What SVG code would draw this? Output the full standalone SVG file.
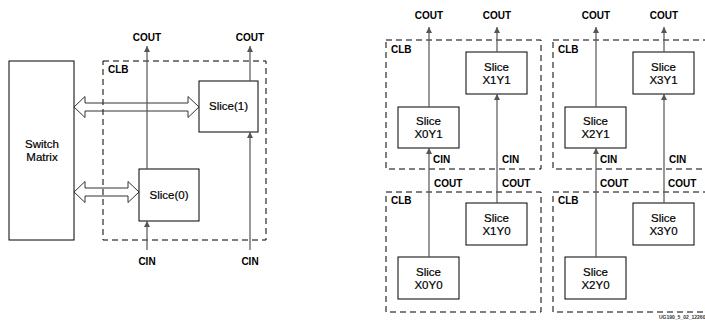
<svg xmlns="http://www.w3.org/2000/svg" width="705" height="323" viewBox="0 0 705 323">
<style>
text{font-family:"Liberation Sans",Arial,sans-serif;fill:#000}
.box{fill:#fff;stroke:#000;stroke-width:1}
.clb{fill:none;stroke:#000;stroke-width:1;stroke-dasharray:6,4}
.b{font-size:10px;font-weight:bold}
.sl{font-size:11.5px;text-anchor:middle;stroke:#000;stroke-width:0.2}
.wire{stroke:#555;stroke-width:1.2;fill:none}
.bus{fill:none;stroke:#333;stroke-width:1}
</style>
<defs>
<marker id="ah" markerWidth="8" markerHeight="8" refX="6" refY="3" orient="auto" markerUnits="userSpaceOnUse">
<path d="M0,0 L6,3 L0,6 Z" fill="#555"/>
</marker>
</defs>
<rect width="705" height="323" fill="#fff"/>

<g id="clbs">
<rect class="clb" x="103" y="61" width="163" height="179"/>
<text class="b" x="108" y="73">CLB</text>
<rect class="clb" x="386" y="40" width="155" height="129"/>
<text class="b" x="391" y="53">CLB</text>
<rect class="clb" x="553" y="40" width="155" height="129"/>
<text class="b" x="558" y="53">CLB</text>
<rect class="clb" x="386" y="192" width="155" height="120"/>
<text class="b" x="391" y="204">CLB</text>
<rect class="clb" x="553" y="192" width="155" height="120"/>
<text class="b" x="558" y="204">CLB</text>
</g>

<g id="switch-matrix">
<rect class="box" x="9" y="61" width="65" height="179"/>
<text class="sl" x="42" y="148">Switch</text>
<text class="sl" x="42" y="161">Matrix</text>
</g>
<g id="slice1">
<rect class="box" x="199" y="81" width="59" height="51"/>
<text class="sl" x="228.5" y="110">Slice(1)</text>
</g>
<g id="slice0">
<rect class="box" x="139" y="169" width="60" height="52"/>
<text class="sl" x="169" y="199">Slice(0)</text>
</g>

<g id="x1y1"><rect class="box" x="466" y="52" width="61" height="42"/><text class="sl" x="496.5" y="71">Slice</text><text class="sl" x="496.5" y="84">X1Y1</text></g>
<g id="x0y1"><rect class="box" x="398" y="107" width="61" height="41"/><text class="sl" x="428.5" y="125">Slice</text><text class="sl" x="428.5" y="138">X0Y1</text></g>
<g id="x3y1"><rect class="box" x="633" y="52" width="61" height="42"/><text class="sl" x="663.5" y="71">Slice</text><text class="sl" x="663.5" y="84">X3Y1</text></g>
<g id="x2y1"><rect class="box" x="565" y="107" width="61" height="41"/><text class="sl" x="595.5" y="125">Slice</text><text class="sl" x="595.5" y="138">X2Y1</text></g>
<g id="x1y0"><rect class="box" x="466" y="203" width="61" height="42"/><text class="sl" x="496.5" y="222">Slice</text><text class="sl" x="496.5" y="235">X1Y0</text></g>
<g id="x0y0"><rect class="box" x="398" y="257" width="61" height="42"/><text class="sl" x="428.5" y="276">Slice</text><text class="sl" x="428.5" y="289">X0Y0</text></g>
<g id="x3y0"><rect class="box" x="633" y="203" width="61" height="42"/><text class="sl" x="663.5" y="222">Slice</text><text class="sl" x="663.5" y="235">X3Y0</text></g>
<g id="x2y0"><rect class="box" x="565" y="257" width="61" height="42"/><text class="sl" x="595.5" y="276">Slice</text><text class="sl" x="595.5" y="289">X2Y0</text></g>

<g id="connectors">
<path class="bus" d="M74,107 L85,96.5 L85,103 L188,103 L188,96.5 L199,107 L188,117.5 L188,111 L85,111 L85,117.5 Z"/>
<path class="bus" d="M74,192 L85,181.5 L85,188 L128,188 L128,181.5 L139,192 L128,202.5 L128,196 L85,196 L85,202.5 Z"/>
<line class="wire" x1="147" y1="250" x2="147" y2="221" marker-end="url(#ah)"/>
<line class="wire" x1="147" y1="169" x2="147" y2="46" marker-end="url(#ah)"/>
<line class="wire" x1="250" y1="250" x2="250" y2="132" marker-end="url(#ah)"/>
<line class="wire" x1="250" y1="81" x2="250" y2="46" marker-end="url(#ah)"/>

<line class="wire" x1="429" y1="107" x2="429" y2="27" marker-end="url(#ah)"/>
<line class="wire" x1="429" y1="257" x2="429" y2="148" marker-end="url(#ah)"/>
<line class="wire" x1="497" y1="52" x2="497" y2="27" marker-end="url(#ah)"/>
<line class="wire" x1="497" y1="203" x2="497" y2="94" marker-end="url(#ah)"/>
<line class="wire" x1="596" y1="107" x2="596" y2="27" marker-end="url(#ah)"/>
<line class="wire" x1="596" y1="257" x2="596" y2="148" marker-end="url(#ah)"/>
<line class="wire" x1="664" y1="52" x2="664" y2="27" marker-end="url(#ah)"/>
<line class="wire" x1="664" y1="203" x2="664" y2="94" marker-end="url(#ah)"/>
</g>

<g id="labels">
<text class="b" x="147" y="41" text-anchor="middle">COUT</text>
<text class="b" x="250" y="41" text-anchor="middle">COUT</text>
<text class="b" x="147" y="265" text-anchor="middle">CIN</text>
<text class="b" x="250" y="265" text-anchor="middle">CIN</text>

<text class="b" x="429" y="19" text-anchor="middle">COUT</text>
<text class="b" x="497" y="19" text-anchor="middle">COUT</text>
<text class="b" x="596" y="19" text-anchor="middle">COUT</text>
<text class="b" x="664" y="19" text-anchor="middle">COUT</text>

<text class="b" x="433" y="163">CIN</text>
<text class="b" x="502" y="163">CIN</text>
<text class="b" x="600" y="163">CIN</text>
<text class="b" x="669" y="163">CIN</text>
<text class="b" x="434" y="187">COUT</text>
<text class="b" x="502" y="187">COUT</text>
<text class="b" x="600" y="187">COUT</text>
<text class="b" x="668" y="187">COUT</text>

<text x="659" y="319" style="font-size:5px;font-weight:bold;fill:#333">UG190_5_02_12260</text>
</g>
</svg>
